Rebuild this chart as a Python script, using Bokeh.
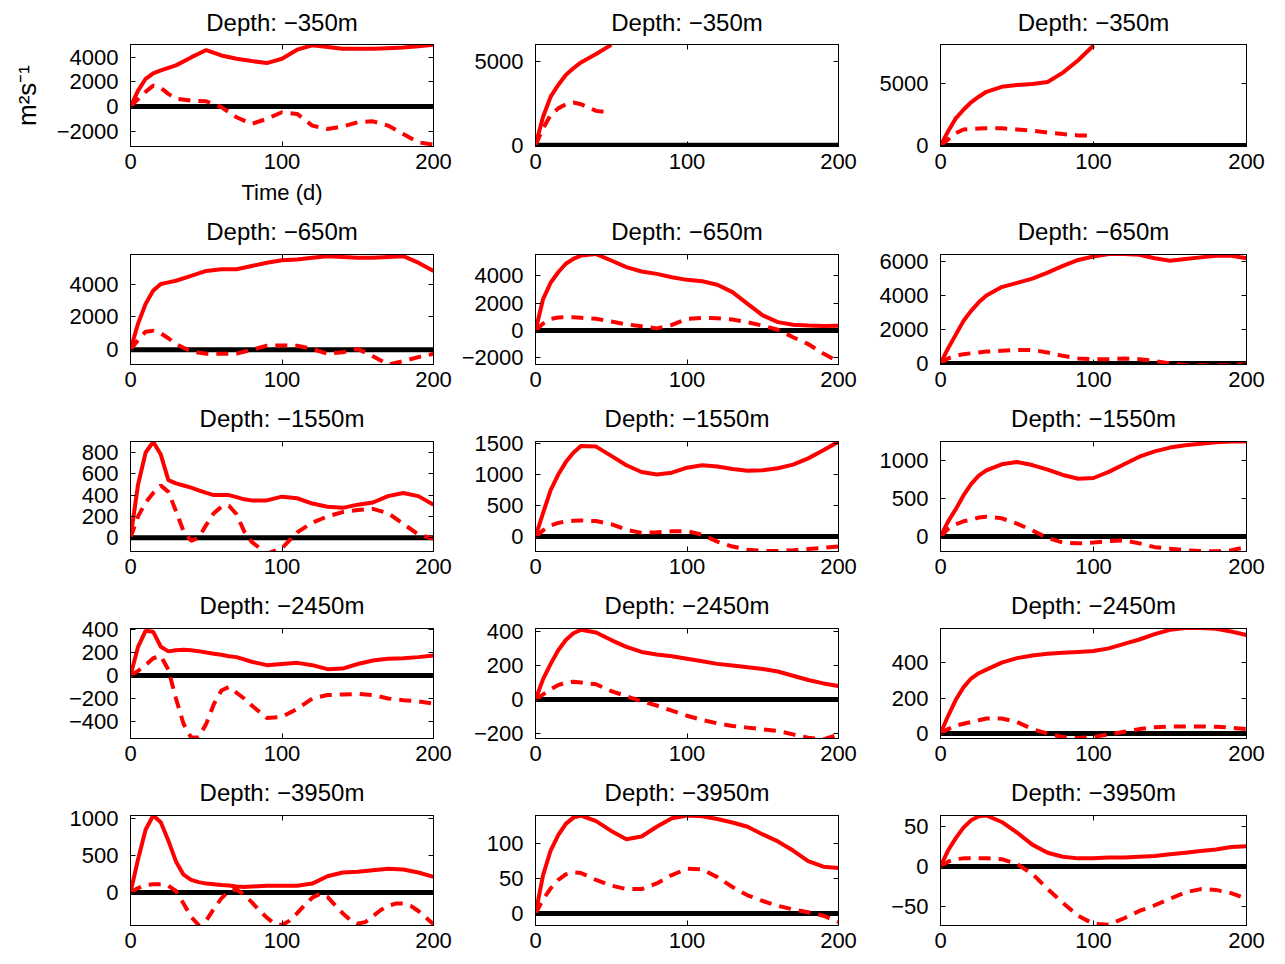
from bokeh.plotting import figure
from bokeh.models import Range1d, FixedTicker, LinearAxis, CustomLabelingPolicy
from bokeh.layouts import column, row
from bokeh.embed import file_html
from bokeh.resources import INLINE

# ---------------- data ----------------
T = [0, 5, 10, 15, 20, 25, 30, 40, 50, 60, 70, 80, 90, 100, 110, 120, 130, 140, 150, 160, 170, 180, 190, 200]
T3 = [0, 5, 10, 15, 20, 25, 30, 35, 40, 45, 50, 55, 60, 65, 70, 75, 80, 90, 100, 110, 120, 130, 140, 150, 160, 170, 180, 190, 200]
T5 = [0, 5, 10, 15, 20, 25, 30, 35, 40, 45, 50, 55, 60, 65, 70, 75, 80, 85, 90, 95, 100,
      105, 110, 115, 120, 125, 130, 135, 140, 145, 150, 155, 160, 165, 170, 175, 180, 185, 190, 195, 200]
T50 = [0, 5, 10, 15, 20, 25, 30, 40, 50]
T100 = [0, 5, 10, 15, 20, 25, 30, 40, 50, 60, 70, 80, 90, 100]
X_LIM = [0, 200]
ZERO = [0, 0]
X_TICKS = [0, 100, 200]
DEPTHS = ["Depth: \u2212350m", "Depth: \u2212650m", "Depth: \u22121550m", "Depth: \u22122450m", "Depth: \u22123950m"]
X_LABEL = "Time (d)"
Y_LABEL = "m\u00b2s\u207b\u00b9"

# row 1 (-350 m)
s_r1c1 = [0, 1300, 2260, 2700, 2940, 3150, 3350, 4000, 4600, 4160, 3890, 3700, 3540, 3890, 4630, 4980, 4850, 4710, 4700, 4700, 4750, 4800, 4900, 5030]
d_r1c1 = [0, 600, 1200, 1700, 1520, 1030, 630, 490, 430, -50, -870, -1410, -1000, -460, -600, -1550, -1820, -1630, -1280, -1200, -1550, -2230, -2910, -3100]
s_r1c2 = [0, 1700, 2900, 3600, 4200, 4600, 4950, 5450, 6000]
d_r1c2 = [0, 1000, 1800, 2200, 2450, 2550, 2450, 2050, 1950]
s_r1c3 = [0, 1150, 2200, 2900, 3500, 3950, 4350, 4750, 4900, 4980, 5150, 5900, 6900, 8100]
d_r1c3 = [0, 500, 1000, 1300, 1350, 1380, 1400, 1400, 1300, 1200, 1050, 930, 820, 800]
# row 2 (-650 m)
s_r2c1 = [0, 1600, 2800, 3600, 4000, 4100, 4200, 4500, 4800, 4900, 4900, 5100, 5300, 5450, 5500, 5600, 5700, 5650, 5600, 5600, 5650, 5700, 5300, 4800]
d_r2c1 = [0, 600, 1100, 1150, 1000, 700, 350, -100, -250, -250, -240, 0, 240, 260, 240, 50, -250, -150, 50, -400, -900, -700, -450, -250]
s_r2c2 = [0, 2300, 3500, 4270, 4890, 5250, 5490, 5600, 5130, 4640, 4320, 4150, 3900, 3710, 3610, 3350, 2810, 1950, 1100, 610, 420, 370, 330, 350]
d_r2c2 = [0, 500, 850, 950, 970, 960, 930, 850, 650, 450, 300, 150, 400, 850, 920, 900, 800, 600, 350, 50, -500, -1000, -1700, -2300]
s_r2c3 = [0, 900, 1700, 2500, 3100, 3600, 4000, 4500, 4750, 5000, 5350, 5750, 6100, 6300, 6450, 6450, 6400, 6200, 6050, 6150, 6250, 6350, 6350, 6200]
d_r2c3 = [0, 300, 450, 550, 600, 650, 700, 750, 800, 800, 650, 450, 300, 250, 250, 300, 250, 150, 0, -100, -100, -100, -100, -50]
# row 3 (-1550 m)
s_r3c1 = [0, 500, 800, 900, 780, 540, 510, 490, 470, 445, 420, 400, 400, 400, 380, 360, 350, 350, 385, 370, 320, 290, 280, 310, 330, 390, 420, 390, 310]
d_r3c1 = [0, 200, 330, 420, 490, 430, 250, 60, -30, 0, 120, 230, 290, 300, 220, 60, -40, -150, -100, 50, 140, 200, 240, 260, 270, 230, 130, 30, -10]
s_r3c2 = [0, 380, 750, 1000, 1200, 1350, 1460, 1450, 1300, 1150, 1040, 1000, 1030, 1110, 1150, 1130, 1090, 1060, 1070, 1100, 1160, 1260, 1390, 1530]
d_r3c2 = [0, 100, 180, 220, 245, 255, 260, 250, 200, 110, 60, 70, 85, 90, 30, -80, -160, -210, -230, -230, -220, -200, -180, -160]
s_r3c3 = [0, 200, 360, 540, 690, 800, 870, 950, 980, 940, 880, 810, 760, 770, 850, 950, 1050, 1120, 1170, 1200, 1220, 1240, 1250, 1250]
d_r3c3 = [0, 100, 160, 200, 220, 250, 260, 240, 170, 80, -20, -80, -90, -80, -60, -50, -90, -140, -160, -180, -190, -195, -180, -140]
# row 4 (-2450 m)
s_r4c1 = [0, 250, 390, 380, 250, 210, 220, 225, 220, 212, 200, 190, 180, 168, 160, 140, 120, 90, 100, 110, 90, 55, 60, 100, 130, 145, 150, 160, 175]
d_r4c1 = [0, 40, 90, 150, 170, 50, -200, -420, -540, -540, -420, -250, -130, -100, -150, -200, -260, -370, -360, -290, -200, -170, -165, -160, -170, -200, -215, -225, -245]
s_r4c2 = [0, 120, 210, 290, 350, 390, 410, 395, 350, 310, 280, 265, 255, 240, 225, 210, 200, 190, 180, 165, 140, 115, 95, 80]
d_r4c2 = [0, 30, 60, 85, 100, 105, 100, 90, 50, 20, -10, -35, -65, -95, -120, -140, -155, -165, -175, -185, -205, -225, -235, -205]
s_r4c3 = [0, 100, 190, 260, 310, 340, 360, 400, 425, 440, 450, 455, 460, 465, 480, 505, 530, 560, 585, 595, 595, 590, 575, 555]
d_r4c3 = [0, 25, 45, 55, 65, 75, 85, 85, 65, 25, 0, -20, -25, -20, -5, 10, 25, 35, 40, 40, 40, 38, 33, 25]
# row 5 (-3950 m)
s_r5c1 = [0, 450, 850, 1040, 950, 700, 420, 240, 170, 140, 120, 110, 100, 95, 80, 75, 80, 90, 90, 90, 120, 220, 270, 280, 300, 320, 310, 270, 210]
d_r5c1 = [0, 60, 100, 110, 110, 90, 20, -150, -330, -440, -380, -220, -80, 20, 40, -30, -130, -240, -340, -420, -440,
          -380, -280, -170, -70, -20, -60, -170, -280, -370, -420, -400, -320, -240, -180, -150, -150, -180, -250, -340, -430]
s_r5c2 = [0, 55, 90, 112, 128, 137, 140, 132, 118, 106, 110, 124, 136, 140, 139, 135, 130, 124, 113, 103, 90, 75, 67, 65]
d_r5c2 = [0, 20, 36, 48, 56, 59, 58, 48, 40, 35, 35, 43, 55, 64, 63, 52, 38, 26, 18, 11, 6, 2, -3, -12]
s_r5c3 = [0, 20, 35, 48, 57, 62, 63, 55, 42, 27, 17, 12, 10, 10, 11, 11, 12, 13, 15, 17, 19, 21, 24, 25]
d_r5c3 = [0, 6, 9, 10, 10, 10, 10, 9, 3, -9, -28, -45, -61, -71, -72, -64, -55, -48, -40, -32, -28, -29, -33, -40]

# y limits and ticks per panel
ylims = [
    [(-3250, 5050), (-80, 6020), (-80, 8180)],
    [(-900, 5800), (-2500, 5570), (-60, 6420)],
    [(-130, 903), (-240, 1532), (-197, 1250)],
    [(-548, 409), (-229, 418), (-28, 592)],
    [(-446, 1040), (-17, 140), (-73, 63)],
]
yticks = [
    [[-2000, 0, 2000, 4000], [0, 5000], [0, 5000]],
    [[0, 2000, 4000], [-2000, 0, 2000, 4000], [0, 2000, 4000, 6000]],
    [[0, 200, 400, 600, 800], [0, 500, 1000, 1500], [0, 500, 1000]],
    [[-400, -200, 0, 200, 400], [-200, 0, 200, 400], [0, 200, 400]],
    [[0, 500, 1000], [0, 50, 100], [-50, 0, 50]],
]
series = [
    [(T, s_r1c1, T, d_r1c1), (T50, s_r1c2, T50, d_r1c2), (T100, s_r1c3, T100, d_r1c3)],
    [(T, s_r2c1, T, d_r2c1), (T, s_r2c2, T, d_r2c2), (T, s_r2c3, T, d_r2c3)],
    [(T3, s_r3c1, T3, d_r3c1), (T, s_r3c2, T, d_r3c2), (T, s_r3c3, T, d_r3c3)],
    [(T3, s_r4c1, T3, d_r4c1), (T, s_r4c2, T, d_r4c2), (T, s_r4c3, T, d_r4c3)],
    [(T3, s_r5c1, T5, d_r5c1), (T, s_r5c2, T, d_r5c2), (T, s_r5c3, T, d_r5c3)],
]

# ---------------- layout ----------------
FONT = "Liberation Sans"
LEFT = [130, 80, 80]
RIGHT = [22, 22, 25]
FRAME_W = [303, 303, 306]
TOPB = [44, 45, 45, 45, 45]
TITLE_STANDOFF = [14, 15, 15, 15, 15]
FRAME_H = [102, 110, 110, 110, 110]
BOTTOM = [63, 32, 32, 32, 35]

HIDE_ALL = "const all = [...indices]; for (const i of all) indices.unset(i)"


def labels(ticks):
    return {v: ("\u2212" + str(abs(v))) for v in ticks if v < 0}


def style_axis(ax, show_labels=True, fs="22px", standoff=8):
    ax.axis_line_color = "black"
    ax.major_tick_line_color = "black"
    ax.major_tick_in = 5
    ax.major_tick_out = 0
    ax.minor_tick_line_color = None
    ax.major_label_text_font = FONT
    ax.major_label_text_color = "black"
    if show_labels:
        ax.major_label_text_font_size = fs
        ax.major_label_standoff = standoff
    else:
        ax.major_label_text_font_size = "0px"
        ax.major_label_standoff = 0
        ax.major_label_policy = CustomLabelingPolicy(code=HIDE_ALL)


def panel(ri, ci):
    ts, s, td, d = series[ri][ci]
    ylo, yhi = ylims[ri][ci]
    yt = yticks[ri][ci]
    p = figure(width=LEFT[ci] + FRAME_W[ci] + RIGHT[ci], height=TOPB[ri] + FRAME_H[ri] + BOTTOM[ri],
               x_range=Range1d(X_LIM[0], X_LIM[1]), y_range=Range1d(ylo, yhi),
               output_backend="svg", toolbar_location=None,
               min_border_left=LEFT[ci], min_border_right=RIGHT[ci],
               min_border_top=TOPB[ri], min_border_bottom=BOTTOM[ri])
    p.title.text = DEPTHS[ri]
    p.title.text_font = FONT
    p.title.text_font_size = "24px"
    p.title.text_font_style = "normal"
    p.title.text_color = "black"
    p.title.align = "center"
    p.title.vertical_align = "top"
    p.title.standoff = TITLE_STANDOFF[ri]
    p.grid.visible = False
    p.outline_line_color = "black"
    p.outline_line_width = 1
    p.background_fill_color = "white"
    p.border_fill_color = "white"

    xb = p.below[0]
    yl = p.left[0]
    xb.ticker = FixedTicker(ticks=X_TICKS)
    yl.ticker = FixedTicker(ticks=yt)
    yl.major_label_overrides = labels(yt)
    style_axis(xb, standoff=7)
    style_axis(yl, standoff=12)

    ax_r = LinearAxis(ticker=FixedTicker(ticks=yt))
    style_axis(ax_r, show_labels=False)
    p.add_layout(ax_r, "right")
    ax_t = LinearAxis(ticker=FixedTicker(ticks=X_TICKS))
    style_axis(ax_t, show_labels=False)
    p.add_layout(ax_t, "above")

    if ri == 0 and ci == 0:
        xb.axis_label = X_LABEL
        yl.axis_label = Y_LABEL
        for ax in (xb, yl):
            ax.axis_label_text_font = FONT
            ax.axis_label_text_font_style = "normal"
            ax.axis_label_text_color = "black"
        xb.axis_label_text_font_size = "22px"
        yl.axis_label_text_font_size = "26px"
        xb.axis_label_standoff = 8
        yl.axis_label_standoff = 12

    p.line(X_LIM, ZERO, line_color="black", line_width=5)
    p.line(ts, s, line_color="#ff0000", line_width=4)
    p.line(td, d, line_color="#ff0000", line_width=4, line_dash="12 8")
    return p


rows = []
for ri in range(5):
    rows.append(row(*[panel(ri, ci) for ci in range(3)]))
layout = column(*rows)

open("out.html", "w").write(file_html(layout, INLINE))
